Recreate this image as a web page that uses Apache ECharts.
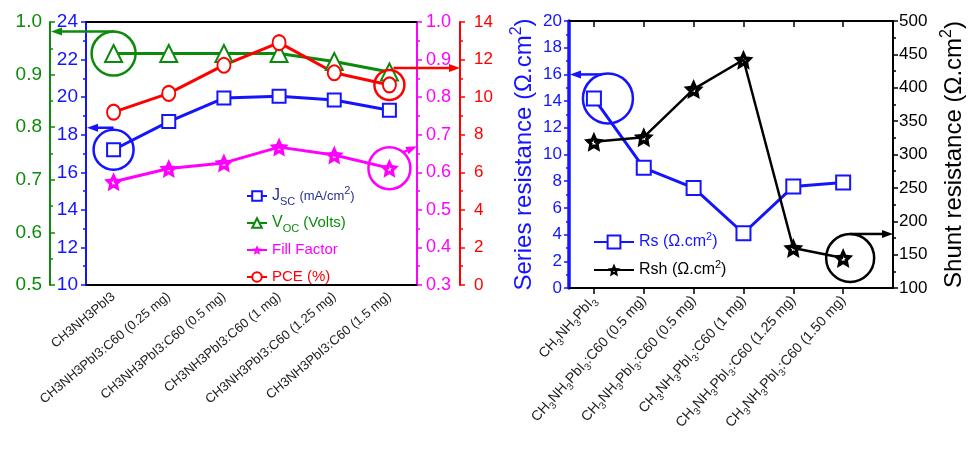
<!DOCTYPE html>
<html>
<head>
<meta charset="utf-8">
<script src="https://cdn.jsdelivr.net/npm/echarts@6/dist/echarts.min.js"></script>
<style>
html, body { margin: 0; padding: 0; background: #fff; }
#main { width: 976px; height: 456px; }
</style>
</head>
<body>
<div id="main"></div>
<script>
// left panel: photovoltaic parameters
var leftCats = ['CH3NH3PbI3', 'CH3NH3PbI3:C60 (0.25 mg)', 'CH3NH3PbI3:C60 (0.5 mg)',
    'CH3NH3PbI3:C60 (1 mg)', 'CH3NH3PbI3:C60 (1.25 mg)', 'CH3NH3PbI3:C60 (1.5 mg)'];
var jsc = [17.2, 18.7, 19.95, 20.05, 19.85, 19.3];
var voc = [0.94, 0.94, 0.94, 0.94, 0.925, 0.905];
var ff = [0.575, 0.61, 0.625, 0.667, 0.646, 0.611];
var pce = [9.2, 10.2, 11.7, 12.9, 11.3, 10.65];

// right panel: series / shunt resistance
var rightCats = ['CH3NH3PbI3', 'CH3NH3PbI3:C60 (0.5 mg)', 'CH3NH3PbI3:C60 (0.5 mg)',
    'CH3NH3PbI3:C60 (1 mg)', 'CH3NH3PbI3:C60 (1.25 mg)', 'CH3NH3PbI3:C60 (1.50 mg)'];
var rs = [14.2, 9.0, 7.5, 4.1, 7.6, 7.9];
var rsh = [319, 326, 398, 442, 160, 145];

var BLUE = '#1414ff', GREEN = '#0b8a0b', MAG = '#ff00ff', RED = '#ff0000', BLACK = '#000';
var FONT = '"Liberation Sans", Arial, sans-serif';
var rightIdx = rightCats.map(function (c, i) { return i; });

function starPath(R, r, h) {
    var pts = [], hole = [];
    for (var i = 0; i < 10; i++) {
        var a = -Math.PI / 2 + i * Math.PI / 5;
        var rad = i % 2 ? r : R;
        pts.push((rad * Math.cos(a)).toFixed(2) + ',' + (rad * Math.sin(a)).toFixed(2));
        hole.push((rad * h * Math.cos(a)).toFixed(2) + ',' + (rad * h * Math.sin(a)).toFixed(2));
    }
    hole.reverse();
    return 'path://M' + pts.join('L') + 'ZM' + hole.join('L') + 'Z';
}
var STAR = starPath(10, 4.8, 0.25);

var subRich = {
    s: { fontSize: 10, lineHeight: 10, verticalAlign: 'bottom' }
};
var supSub = {
    b: { fontSize: 16, lineHeight: 22 },
    u: { fontSize: 13, lineHeight: 22 },
    sub: { fontSize: 11, lineHeight: 11, verticalAlign: 'bottom' },
    sup: { fontSize: 11, lineHeight: 11, verticalAlign: 'top' }
};

function yAx(o) {
    var ax = {
        type: 'value',
        splitLine: { show: false },
        axisLine: { show: true, onZero: false, lineStyle: { color: o.color, width: 2 } },
        axisTick: { show: true, length: 5, inside: !!o.inside, lineStyle: { color: o.color, width: 1.5 } },
        minorTick: { show: true, splitNumber: 2, length: 3, lineStyle: { color: o.color, width: 1.5 } },
        axisLabel: { color: o.color, fontSize: o.fontSize || 19, fontFamily: FONT, margin: o.margin || 8 }
    };
    for (var k in o) {
        if (['color', 'inside', 'fontSize', 'margin'].indexOf(k) < 0) ax[k] = o[k];
    }
    return ax;
}

var chart = echarts.init(document.getElementById('main'));

var option = {
    animation: false,
    grid: [
        { left: 86, top: 22, width: 331, height: 263 },
        { left: 569, top: 21, width: 324, height: 267 }
    ],
    legend: [
        {
            orient: 'vertical',
            left: 241,
            top: 180,
            itemWidth: 20,
            itemHeight: 12,
            itemGap: 5,
            textStyle: { fontSize: 15, fontFamily: FONT, lineHeight: 22, rich: supSub },
            data: [
                { name: 'Jsc', textStyle: { color: '#262f8e' } },
                { name: 'Voc', textStyle: { color: GREEN } },
                { name: 'Fill Factor', textStyle: { color: MAG } },
                { name: 'PCE (%)', textStyle: { color: RED } }
            ],
            formatter: function (n) {
                if (n === 'Jsc') return '{b|J}{sub|SC} {u|(mA/cm}{sup|2}{u|)}';
                if (n === 'Voc') return '{b|V}{sub|OC} (Volts)';
                return n;
            }
        },
        {
            orient: 'vertical',
            left: 588,
            top: 226,
            itemWidth: 40,
            itemHeight: 16,
            itemGap: 6,
            textStyle: { fontSize: 16, fontFamily: FONT, lineHeight: 22, rich: supSub },
            data: [
                { name: 'Rs', textStyle: { color: BLUE } },
                { name: 'Rsh', textStyle: { color: BLACK } }
            ],
            formatter: function (n) {
                return n + ' (Ω.cm{sup|2})';
            }
        }
    ],
    xAxis: [
        {
            gridIndex: 0, type: 'category', data: leftCats, position: 'bottom',
            axisLine: { lineStyle: { color: BLACK, width: 2 } },
            axisTick: { alignWithLabel: true, length: 6, lineStyle: { color: BLACK, width: 1.5 } },
            axisLabel: { rotate: 40, fontSize: 13, color: '#222', fontFamily: FONT, margin: 10, interval: 0 }
        },
        {
            gridIndex: 0, type: 'category', data: leftCats, position: 'top',
            axisLine: { lineStyle: { color: BLACK, width: 2 } },
            axisTick: { inside: true, alignWithLabel: true, length: 6, lineStyle: { color: BLACK, width: 1.5 } },
            axisLabel: { show: false }
        },
        {
            gridIndex: 1, type: 'value', min: -0.5, max: 6, position: 'bottom',
            splitLine: { show: false },
            axisLine: { onZero: false, lineStyle: { color: BLACK, width: 2 } },
            axisTick: { length: 6, customValues: rightIdx, lineStyle: { color: BLACK, width: 1.5 } },
            axisLabel: {
                rotate: 48, fontSize: 14, color: '#222', fontFamily: FONT, margin: 10, lineHeight: 20,
                rich: subRich,
                customValues: rightIdx,
                formatter: function (v) {
                    var c = rightCats[Math.round(v)];
                    return c ? c.replace(/([A-Za-z])3/g, '$1{s|3}') : '';
                }
            }
        },
        {
            gridIndex: 1, type: 'value', min: -0.5, max: 6, position: 'top',
            splitLine: { show: false },
            axisLine: { onZero: false, lineStyle: { color: BLACK, width: 2 } },
            axisTick: { inside: true, length: 6, customValues: rightIdx, lineStyle: { color: BLACK, width: 1.5 } },
            axisLabel: { show: false }
        }
    ],
    yAxis: [
        yAx({ gridIndex: 0, min: 10, max: 24, interval: 2, position: 'left', color: BLUE }),
        yAx({
            gridIndex: 0, min: 0.5, max: 1.0, interval: 0.1, position: 'left', offset: 36,
            color: GREEN, inside: true, axisLabel: {
                color: GREEN, fontSize: 19, fontFamily: FONT, margin: 8,
                formatter: function (v) { return v.toFixed(1); }
            }
        }),
        yAx({
            gridIndex: 0, min: 0.3, max: 1.0, interval: 0.1, position: 'right',
            color: MAG, axisLabel: {
                color: MAG, fontSize: 18, fontFamily: FONT, margin: 9,
                formatter: function (v) { return v.toFixed(1); }
            }
        }),
        yAx({
            gridIndex: 0, min: 0, max: 14, interval: 2, position: 'right', offset: 43,
            color: RED, fontSize: 17, margin: 14
        }),
        yAx({
            gridIndex: 1, min: 0, max: 20, interval: 2, position: 'left', color: BLUE,
            fontSize: 17, margin: 7,
            axisLine: { show: true, onZero: false, lineStyle: { color: BLUE, width: 3.5 } },
            name: 'Series resistance (Ω.cm{sup|2})',
            nameLocation: 'middle', nameGap: 30,
            nameTextStyle: {
                color: BLUE, fontSize: 24, fontFamily: FONT, lineHeight: 30,
                rich: {
                    sup: { fontSize: 16, lineHeight: 14, verticalAlign: 'top' }
                }
            }
        }),
        yAx({
            gridIndex: 1, min: 100, max: 500, interval: 50, position: 'right', color: BLACK,
            fontSize: 17, margin: 6,
            name: 'Shunt resistance (Ω.cm{sup|2})',
            nameLocation: 'middle', nameGap: 46,
            nameTextStyle: {
                color: BLACK, fontSize: 24, fontFamily: FONT, lineHeight: 30,
                rich: {
                    sup: { fontSize: 16, lineHeight: 14, verticalAlign: 'top' }
                }
            }
        })
    ],
    series: [
        {
            name: 'Jsc', type: 'line', xAxisIndex: 0, yAxisIndex: 0, data: jsc,
            symbol: 'emptyRect', symbolSize: 13,
            lineStyle: { color: BLUE, width: 3 },
            itemStyle: { color: BLUE, borderWidth: 3 }
        },
        {
            name: 'Voc', type: 'line', xAxisIndex: 0, yAxisIndex: 1, data: voc,
            symbol: 'emptyTriangle', symbolSize: 17,
            lineStyle: { color: GREEN, width: 3 },
            itemStyle: { color: GREEN, borderWidth: 3 }
        },
        {
            name: 'Fill Factor', type: 'line', xAxisIndex: 0, yAxisIndex: 2, data: ff,
            symbol: STAR, symbolSize: 19,
            lineStyle: { color: MAG, width: 3 },
            itemStyle: { color: MAG }
        },
        {
            name: 'PCE (%)', type: 'line', xAxisIndex: 0, yAxisIndex: 3, data: pce,
            symbol: 'emptyCircle', symbolSize: [13, 15],
            lineStyle: { color: RED, width: 3 },
            itemStyle: { color: RED, borderWidth: 3 }
        },
        {
            name: 'Rs', type: 'line', xAxisIndex: 2, yAxisIndex: 4,
            data: rs.map(function (v, i) { return [i, v]; }),
            symbol: 'emptyRect', symbolSize: 14,
            lineStyle: { color: BLUE, width: 3 },
            itemStyle: { color: BLUE, borderWidth: 2.5 }
        },
        {
            name: 'Rsh', type: 'line', xAxisIndex: 2, yAxisIndex: 5,
            data: rsh.map(function (v, i) { return [i, v]; }),
            symbol: STAR, symbolSize: 20,
            lineStyle: { color: BLACK, width: 2.5 },
            itemStyle: { color: BLACK }
        }
    ]
};

chart.setOption(option);

// annotation circles and arrows pointing to the matching axis
function arrow(x1, y1, x2, y2, color) {
    var a = Math.atan2(y2 - y1, x2 - x1), L = 11, W = 8;
    var bx = x2 - L * Math.cos(a), by = y2 - L * Math.sin(a);
    var nx = -Math.sin(a) * W / 2, ny = Math.cos(a) * W / 2;
    return [
        { type: 'line', z: 100, shape: { x1: x1, y1: y1, x2: bx, y2: by }, style: { stroke: color, lineWidth: 2.5 } },
        { type: 'polygon', z: 100, shape: { points: [[x2, y2], [bx + nx, by + ny], [bx - nx, by - ny]] }, style: { fill: color } }
    ];
}
function ring(p, r, color, dx) {
    return { type: 'circle', z: 100, shape: { cx: p[0] + (dx || 0), cy: p[1], r: r }, style: { fill: null, stroke: color, lineWidth: 2.5 } };
}
var g = [];
var pV = chart.convertToPixel({ seriesIndex: 1 }, [0, voc[0]]);
g.push(ring(pV, 22, GREEN));
g = g.concat(arrow(pV[0], pV[1] - 22, 51, pV[1] - 22, GREEN));
var pJ = chart.convertToPixel({ seriesIndex: 0 }, [0, jsc[0]]);
g.push(ring(pJ, 20, BLUE));
g = g.concat(arrow(pJ[0], pJ[1] - 22, 87, pJ[1] - 22, BLUE));
var pF = chart.convertToPixel({ seriesIndex: 2 }, [5, ff[5]]);
g.push(ring(pF, 21, MAG));
g = g.concat(arrow(pF[0] + 14, pF[1] - 16, 417, pF[1] - 22, MAG));
var pP = chart.convertToPixel({ seriesIndex: 3 }, [5, pce[5]]);
g.push(ring(pP, 15, RED));
g = g.concat(arrow(pP[0] + 4, pP[1] - 17, 460, pP[1] - 17, RED));
var pR = chart.convertToPixel({ seriesIndex: 4 }, [0, rs[0]]);
g.push(ring(pR, 25, BLUE, 14));
g = g.concat(arrow(pR[0] + 8, pR[1] - 24, 570, pR[1] - 24, BLUE));
var pS = chart.convertToPixel({ seriesIndex: 5 }, [5, rsh[5]]);
g.push(ring(pS, 24, BLACK, 7));
g = g.concat(arrow(pS[0] + 7, pS[1] - 24, 893, pS[1] - 24, BLACK));
chart.setOption({ graphic: g });
</script>
</body>
</html>
